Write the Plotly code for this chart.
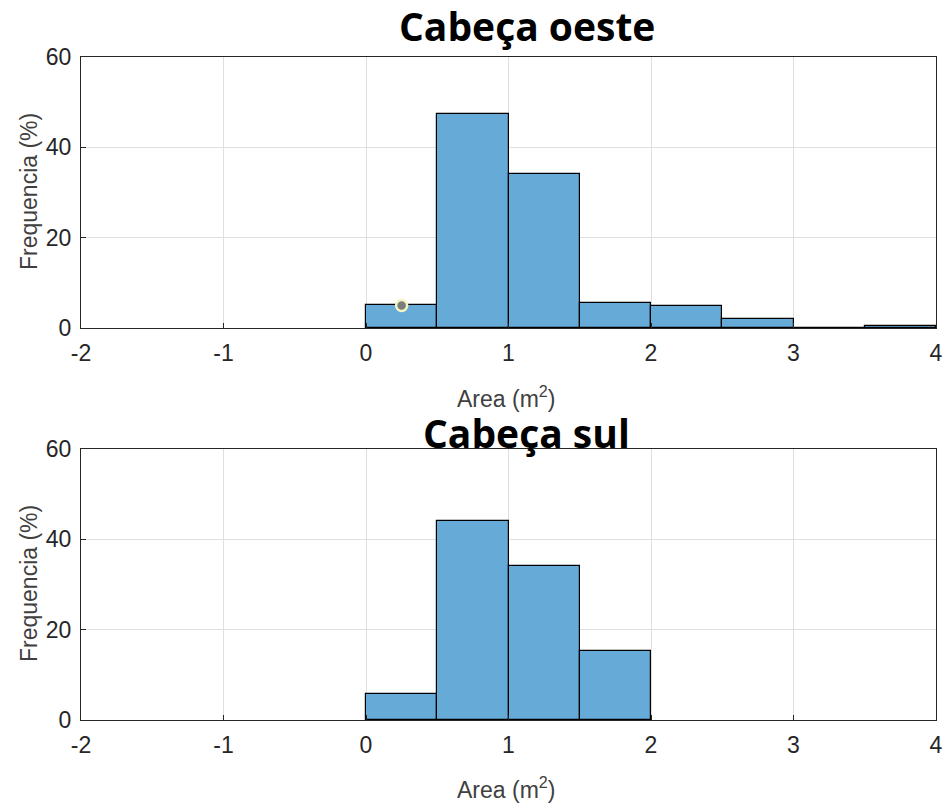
import plotly.graph_objects as go

bin_left = [0.0, 0.5, 1.0, 1.5, 2.0, 2.5, 3.0, 3.5]
oeste_freq = [5.0, 47.3, 34.1, 5.5, 4.9, 2.0, 0.0, 0.4]
sul_bin_left = [0.0, 0.5, 1.0, 1.5]
sul_freq = [5.8, 44.1, 34.1, 15.3]
marker_x = [0.25]
marker_y = [5.0]
x_ticks = [-2, -1, 0, 1, 2, 3, 4]
x_tick_labels = ["-2", "-1", "0", "1", "2", "3", "4"]
y_ticks = [0, 20, 40, 60]

W, H = 943, 803
bar_color = "rgb(102,170,215)"

def px(x):
    return x / W

def py(y):
    return 1 - y / H

fig = go.Figure()

def centers(lefts, w=0.5):
    return [l + w / 2 for l in lefts]

fig.add_trace(go.Bar(x=centers(bin_left), y=oeste_freq, width=0.5,
                     marker=dict(color=bar_color, line=dict(color="black", width=1.2)),
                     xaxis="x", yaxis="y", showlegend=False))
fig.add_trace(go.Scatter(x=marker_x, y=marker_y, mode="markers",
                         marker=dict(color="rgb(125,125,125)", size=11,
                                     line=dict(color="rgb(245,245,195)", width=2.5)),
                         xaxis="x", yaxis="y", showlegend=False))
fig.add_trace(go.Bar(x=centers(sul_bin_left), y=sul_freq, width=0.5,
                     marker=dict(color=bar_color, line=dict(color="black", width=1.2)),
                     xaxis="x2", yaxis="y2", showlegend=False))

x_dom = [px(81), px(936)]
top_dom = [py(328), py(57)]
bot_dom = [py(720), py(449)]

tickfont = dict(family="Liberation Sans, Arial", size=23, color="#262626")
labfont = dict(family="Liberation Sans, Arial", size=23, color="#404040")

def xax(anchor):
    return dict(domain=x_dom, range=[-2, 4], tickvals=x_ticks, ticktext=x_tick_labels,
                anchor=anchor, automargin=False,
                showgrid=True, gridcolor="rgb(223,223,223)", gridwidth=1,
                showline=True, linecolor="#262626", linewidth=1.2, mirror=True,
                ticks="inside", ticklen=5, tickcolor="#262626", zeroline=False,
                tickfont=tickfont, ticklabelstandoff=4)

def yax(dom, anchor):
    return dict(domain=dom, range=[0, 60], tickvals=y_ticks, anchor=anchor, automargin=False,
                showgrid=True, gridcolor="rgb(223,223,223)", gridwidth=1,
                showline=True, linecolor="#262626", linewidth=1.2, mirror=True,
                ticks="inside", ticklen=5, tickcolor="#262626", zeroline=False,
                tickfont=tickfont, ticklabelstandoff=4)

def lab(text, x, y, angle=0):
    return dict(text=text, x=px(x), y=py(y), xref="paper", yref="paper",
                showarrow=False, xanchor="center", yanchor="middle", textangle=angle,
                font=labfont)

title_font = dict(family="Open Sans, Liberation Sans", size=39, color="black")

fig.update_layout(
    width=W, height=H,
    margin=dict(l=0, r=0, t=0, b=0),
    paper_bgcolor="white", plot_bgcolor="white",
    bargap=0,
    xaxis=xax("y"), yaxis=yax(top_dom, "x"),
    xaxis2=xax("y2"), yaxis2=yax(bot_dom, "x2"),
    annotations=[
        dict(text="<b>Cabeça oeste</b>", x=px(527), y=py(25), xref="paper", yref="paper",
             showarrow=False, xanchor="center", yanchor="middle", font=title_font),
        dict(text="<b>Cabeça sul</b>", x=px(526), y=py(432), xref="paper", yref="paper",
             showarrow=False, xanchor="center", yanchor="middle", font=title_font),
        lab("Area (m<sup>2</sup>)", 506, 397),
        lab("Area (m<sup>2</sup>)", 506, 788),
        lab("Frequencia (%)", 29, 192, -90),
        lab("Frequencia (%)", 29, 584, -90),
    ],
)

fig.write_html(
    "out.html",
    config={"displayModeBar": False},
    post_script="document.body.style.margin='0';document.body.style.overflow='hidden';",
)
